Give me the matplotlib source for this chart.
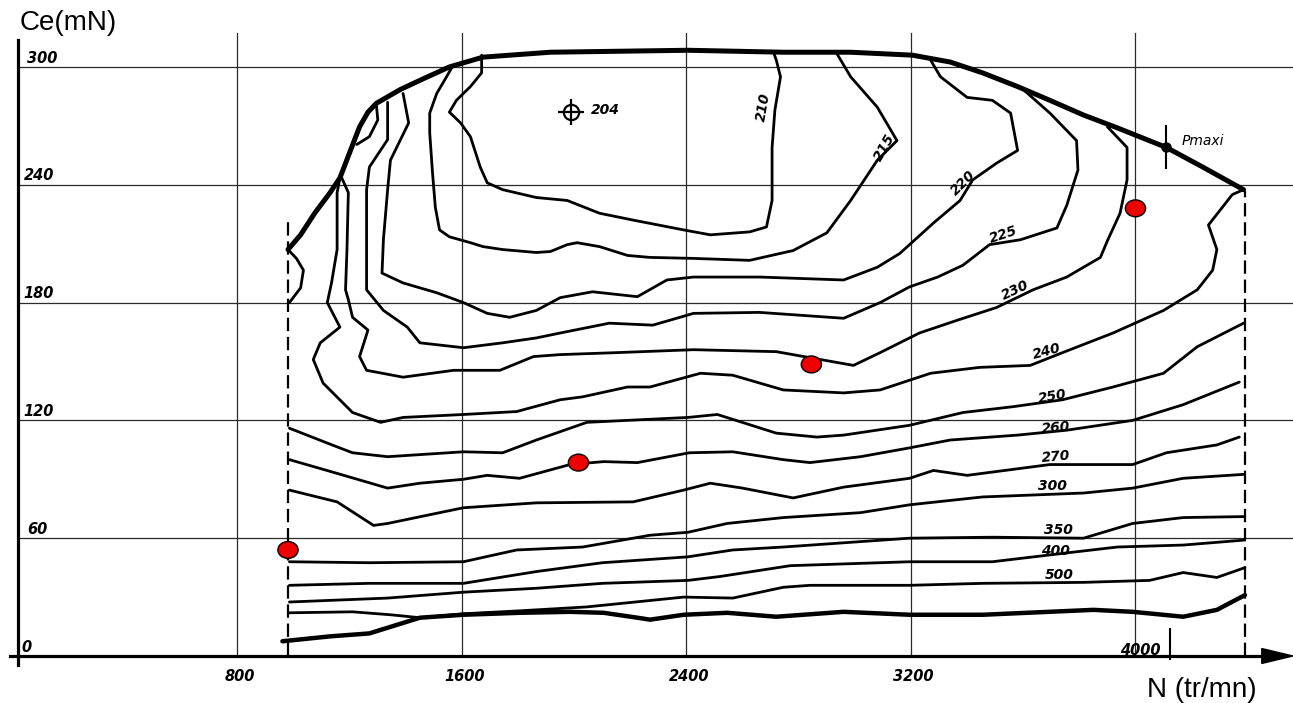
import matplotlib
matplotlib.use("Agg")
import matplotlib.pyplot as plt
from matplotlib.patches import Ellipse, Polygon

# ---------------- data : N (tr/mn) , Ce (mN) ----------------
full_load_rpm = [980, 1025, 1075, 1130, 1165, 1200, 1235, 1265, 1295, 1380, 1470, 1555, 1675, 1915,
                 2405, 2745, 2985, 3205, 3340, 3455, 3580, 3695, 3815, 3935, 4110, 4240, 4385]
full_load_ce = [207, 214.5, 225.5, 236, 243.5, 256.5, 269.5, 277, 281.5, 288.5, 294.5, 300, 305, 307.5,
                308.5, 307.5, 307.5, 306, 302.5, 297, 290, 283, 275.5, 269, 259, 249, 237.5]

lens_rpm = [1295, 1300, 1270, 1225]
lens_ce = [280.5, 273, 264.5, 260.5]

stub_rpm = [980, 1010, 1035, 1025, 985]
stub_ce = [207, 202.5, 196.5, 187.5, 180]

iso210_rpm = [1670, 1670, 1630, 1580, 1555, 1595, 1630, 1665, 1690, 1745, 1865, 1975, 2090, 2210, 2390,
              2485, 2625, 2685, 2705, 2705, 2715, 2735, 2720, 2710]
iso210_ce = [306, 297, 290, 283, 277, 271.5, 264.5, 249, 241, 237.5, 233.5, 232, 225.5, 222, 217,
             214.5, 216, 218.5, 232, 259, 278, 295, 303.5, 307.5]

iso215_rpm = [1565, 1545, 1510, 1485, 1485, 1495, 1505, 1520, 1555, 1630, 1675, 1745, 1865, 1915, 1975,
              2010, 2090, 2190, 2270, 2425, 2625, 2780, 2900, 2985, 3080, 3150, 3080, 2985, 2935]
iso215_ce = [300, 295, 286.5, 276.5, 266.5, 246, 228.5, 217, 213.5, 210.5, 208.5, 207, 205.5, 206, 209.5,
             210.5, 208.5, 204, 203, 202.5, 201.5, 206.5, 215.5, 232, 252.5, 262.5, 279.5, 295, 307]

iso220_rpm = [1390, 1410, 1345, 1335, 1320, 1315, 1390, 1510, 1605, 1690, 1770, 1865, 1950, 2065, 2225,
              2330, 2425, 2660, 2960, 3080, 3160, 3280, 3375, 3420, 3505, 3580, 3555, 3490, 3400, 3305, 3270]
iso220_ce = [286.5, 271.5, 252.5, 237.5, 212, 195, 190, 185, 180, 174.5, 172.5, 176, 182.5, 185.5, 183,
             191.5, 193, 193, 191.5, 198, 205, 220.5, 232, 242.5, 251, 257.5, 276.5, 283, 284.5, 295, 303.5]

iso225_rpm = [1335, 1335, 1270, 1260, 1260, 1320, 1405, 1450, 1605, 1745, 1865, 1950, 2125, 2280, 2425,
              2660, 2960, 3090, 3195, 3295, 3385, 3480, 3590, 3720, 3755, 3795, 3790, 3695, 3600]
iso225_ce = [282, 263, 249, 237.5, 186.5, 176, 167.5, 159.5, 157, 159.5, 162, 164.5, 169.5, 168.5, 174.5,
             175, 172, 180, 188, 193, 199, 209.5, 212, 218, 229.5, 247.5, 262.5, 276.5, 288.5]

iso230_rpm = [1170, 1195, 1190, 1185, 1195, 1210, 1265, 1235, 1260, 1390, 1570, 1735, 1855, 1950, 2150,
              2425, 2720, 2995, 3090, 3230, 3365, 3505, 3635, 3755, 3875, 3900, 3945, 3970, 3970, 3900]
iso230_ce = [244, 236, 206.5, 186.5, 181.5, 172.5, 166, 152.5, 145.5, 142, 145.5, 145.5, 152.5, 153.5, 154.5,
             156, 155, 148, 154.5, 164.5, 171, 177.5, 186.5, 193, 203, 211.5, 225.5, 242.5, 259, 269.5]

iso240_rpm = [1165, 1155, 1155, 1135, 1120, 1165, 1095, 1070, 1105, 1210, 1310, 1390, 1605, 1795, 1950,
              2030, 2190, 2270, 2450, 2565, 2745, 2960, 3090, 3270, 3445, 3625, 3740, 3920, 4100, 4220,
              4275, 4290, 4260, 4345, 4385]
iso240_ce = [243.5, 236, 207, 190, 180, 167.5, 159.5, 151, 139, 124, 119, 121.5, 123, 124.5, 130.5,
             132, 137, 137, 144, 143, 135.5, 134, 135.5, 144, 147, 148, 154.5, 164.5, 176, 186.5,
             196.5, 207, 219.5, 235, 237.5]

iso250_rpm = [985, 1155, 1210, 1335, 1605, 1745, 1865, 1985, 2045, 2405, 2510, 2720, 2865, 2960, 3195,
              3385, 3565, 3740, 3920, 4100, 4220, 4385]
iso250_ce = [116, 106.5, 103.5, 101.5, 104, 103.5, 110, 116, 119, 121.5, 123, 113.5, 111.5, 112.5, 117.5,
             124, 127, 130.5, 137, 144, 157.5, 169.5]

iso260_rpm = [985, 1155, 1335, 1450, 1605, 1690, 1805, 1985, 2105, 2225, 2410, 2565, 2745, 2840, 3020,
              3195, 3340, 3580, 3755, 3990, 4170, 4370]
iso260_ce = [100, 93, 85.5, 88, 90, 92, 90.5, 97.5, 99, 98.5, 103.5, 104, 100, 98.5, 101.5,
             106, 110, 112.5, 115, 120, 128, 139.5]

iso270_rpm = [985, 1155, 1285, 1335, 1605, 1865, 2210, 2390, 2485, 2600, 2780, 2960, 3195, 3280, 3400,
              3695, 3990, 4110, 4290, 4370]
iso270_ce = [84.5, 78.5, 66.5, 67.5, 75.5, 78, 78.5, 84.5, 88, 85.5, 80.5, 86, 90.5, 94.5, 92,
             97.5, 97.5, 103.5, 107.5, 111.5]

iso300_rpm = [985, 1270, 1605, 1795, 2030, 2270, 2405, 2545, 2745, 3020, 3195, 3455, 3815, 3990, 4170, 4385]
iso300_ce = [48, 47.5, 48, 54, 55.5, 61.5, 63, 67.5, 70.5, 73, 77, 81, 83, 85.5, 90.5, 92.5]

iso350_rpm = [985, 1270, 1605, 1865, 2100, 2405, 2565, 2745, 3195, 3490, 3815, 3990, 4170, 4385]
iso350_ce = [36, 37, 37, 43, 47.5, 50.5, 54, 55.5, 60, 60.5, 60, 67.5, 70.5, 71]

iso400_rpm = [985, 1335, 1605, 1865, 2100, 2405, 2520, 2770, 3195, 3490, 3755, 3935, 4170, 4385]
iso400_ce = [27.5, 29.5, 32.5, 34.5, 37, 38.5, 40.5, 46, 48, 48, 52.5, 55.5, 56.5, 59]

iso500_rpm = [985, 1210, 1345, 1450, 1605, 1805, 2045, 2390, 2565, 2745, 2840, 3195, 3455, 3815, 4050,
              4170, 4290, 4390]
iso500_ce = [22, 22.5, 21, 19.5, 21.5, 23, 25, 30, 29.5, 35, 36, 36, 37, 37.5, 38.5, 42.5, 40, 45]

zero_rpm = [960, 1130, 1270, 1450, 1605, 1805, 1985, 2105, 2225, 2270, 2390, 2545, 2720, 2960, 3195,
            3455, 3850, 3990, 4170, 4290, 4390]
zero_ce = [7.5, 10, 11.5, 19.5, 21, 22, 22.5, 22, 19.5, 18.5, 21, 22, 20, 22.5, 21,
           21, 23.5, 22.5, 20, 23.5, 31]

label_text = ["210", "215", "220", "225", "230", "240", "250", "260", "270", "300", "350", "400", "500"]
label_rpm = [2675, 3105, 3385, 3530, 3570, 3685, 3705, 3715, 3715, 3705, 3725, 3715, 3730]
label_ce = [279.5, 259, 241, 214.5, 186.5, 155, 132, 116, 101.5, 86.5, 64, 53.5, 41.5]
label_rot = [80, 60, 45, 18, 25, 15, 10, 5, 5, 0, 0, 0, 0]

ytick_values = [300, 240, 180, 120, 60, 0]
ytick_labels = ["300", "240", "180", "120", "60", "0"]
xtick_values = [800, 1600, 2400, 3200, 4000]
xtick_labels = ["800", "1600", "2400", "3200", "4000"]

n_min, n_max = 980, 4392          # dashed speed limits
best_point = (1990, 277)          # Cs mini = 204
pmaxi_point = (4110, 259)
red_rpm = [980, 2015, 2845, 4000]
red_ce = [54, 98.5, 148.5, 228]

# ---------------- figure ----------------
fig = plt.figure(figsize=(12.93, 7.03), dpi=100)
ax = fig.add_axes([0, 0, 1, 1])
ax.set_xlim(-46.3, 4561.3)
ax.set_ylim(-23.94, 334.1)
ax.axis("off")

grid_kw = dict(color="#2a2a2a", lw=0.9, zorder=1)
for v in ytick_values[:-1]:
    ax.plot([18, 4561], [v, v], **grid_kw)
for v in xtick_values:
    ax.plot([v, v], [0, 317.3], **grid_kw)

# axes
ax.plot([18, 18], [-4.6, 313.7], color="black", lw=2.3, zorder=3)
ax.plot([-10.7, 4460], [0, 0], color="black", lw=2.3, zorder=3)
ax.add_patch(Polygon([[4561, 0], [4450, 3.8], [4450, -3.8]], closed=True, color="black", zorder=3))

# dashed speed limits
ax.plot([n_min, n_min], [0, 223], color="black", lw=1.6, ls=(0, (6, 2.6)), zorder=2)
ax.plot([n_max, n_max], [0, 237], color="black", lw=1.6, ls=(0, (6, 2.6)), zorder=2)

line_kw = dict(color="black", lw=2.0, solid_joinstyle="round", solid_capstyle="round", zorder=4)
contours = [(iso210_rpm, iso210_ce), (iso215_rpm, iso215_ce), (iso220_rpm, iso220_ce),
            (iso225_rpm, iso225_ce), (iso230_rpm, iso230_ce), (iso240_rpm, iso240_ce),
            (iso250_rpm, iso250_ce), (iso260_rpm, iso260_ce), (iso270_rpm, iso270_ce),
            (iso300_rpm, iso300_ce), (iso350_rpm, iso350_ce), (iso400_rpm, iso400_ce),
            (iso500_rpm, iso500_ce), (lens_rpm, lens_ce), (stub_rpm, stub_ce)]
for xs, ys in contours:
    ax.plot(xs, ys, **line_kw)

ax.plot(full_load_rpm, full_load_ce, color="black", lw=3.6, solid_joinstyle="round",
        solid_capstyle="round", zorder=5)
ax.plot(zero_rpm, zero_ce, color="black", lw=3.2, solid_joinstyle="round",
        solid_capstyle="round", zorder=5)

# contour labels
lab_font = dict(fontsize=10, fontweight="bold", fontstyle="italic", family="DejaVu Sans")
for t, x, y, r in zip(label_text, label_rpm, label_ce, label_rot):
    ax.text(x, y, t, rotation=r, ha="center", va="center", zorder=6, **lab_font)

# best point 204
ax.plot(*best_point, marker="o", ms=11, mfc="none", mec="black", mew=1.6, zorder=6)
ax.plot(*best_point, marker="+", ms=19, mec="black", mew=1.6, zorder=6)
ax.text(best_point[0] + 70, best_point[1] + 1, "204", ha="left", va="center", **lab_font)

# P maxi
ax.plot(*pmaxi_point, marker="o", ms=6.5, color="black", zorder=6)
ax.plot(*pmaxi_point, marker="|", ms=32, mew=1.5, color="black", zorder=6)
ax.text(pmaxi_point[0] + 55, pmaxi_point[1] + 3.5, "Pmaxi", ha="left", va="center",
        fontsize=10, fontstyle="italic", family="DejaVu Sans")

# red points
for x, y in zip(red_rpm, red_ce):
    ax.add_patch(Ellipse((x, y), width=72, height=8.6, facecolor="#ee0000",
                         edgecolor="black", lw=1.0, zorder=7))

# tick labels (hand-written)
tick_font = dict(fontsize=10.5, fontweight="bold", fontstyle="italic", family="DejaVu Sans")
ytick_pos_x = [105, 92, 92, 92, 87, 50]
for v, t, x in zip(ytick_values, ytick_labels, ytick_pos_x):
    ax.text(x, v + 4.5, t, ha="center", va="center", **tick_font)
for v, t in zip(xtick_values[:-1], xtick_labels[:-1]):
    ax.text(v + 8, -10.5, t, ha="center", va="center", **tick_font)
ax.text(4016, 2.8, xtick_labels[-1], ha="center", va="center", **tick_font)
ax.plot(4123, 6, marker="|", ms=23, mew=1.5, color="black", zorder=6)

ax.text(25, 322.5, "Ce(mN)", ha="left", va="center", fontsize=20, family="Liberation Sans")
ax.text(4040, -17.5, "N (tr/mn)", ha="left", va="center", fontsize=20, family="Liberation Sans")

fig.savefig("out.png", dpi=100)
